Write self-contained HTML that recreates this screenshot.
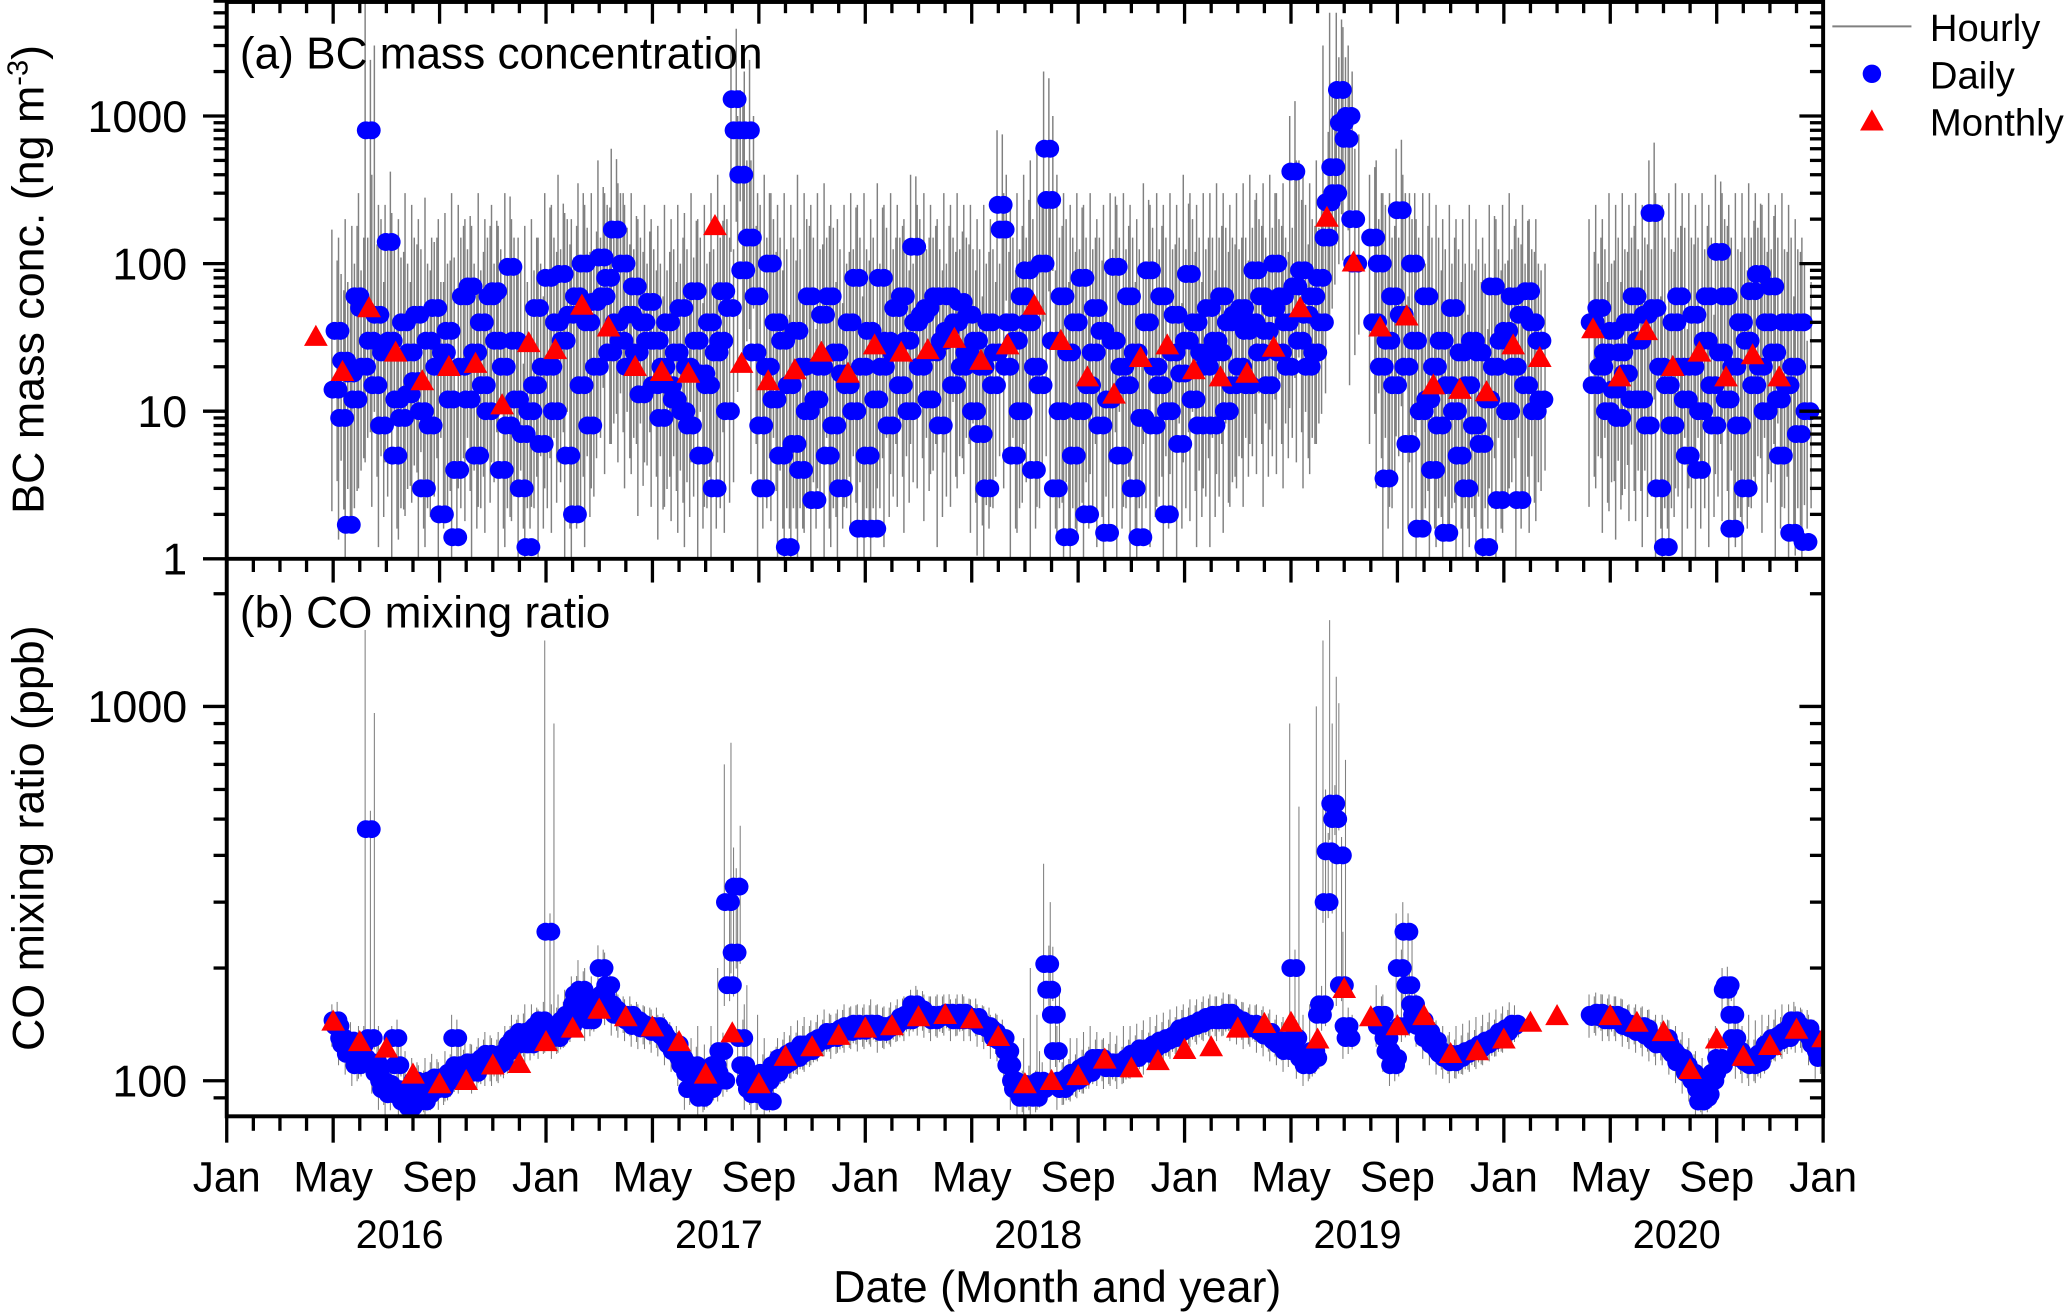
<!DOCTYPE html>
<html><head><meta charset="utf-8">
<style>
html,body{margin:0;padding:0;background:#fff;}
svg{display:block;font-family:"Liberation Sans",Arial,sans-serif;}
</style></head>
<body>
<svg id="chart" width="2067" height="1314" viewBox="0 0 1568 997" preserveAspectRatio="none" xmlns="http://www.w3.org/2000/svg">
<defs>
<clipPath id="clipA"><rect x="172" y="0" width="1211" height="424"/></clipPath>
<clipPath id="clipB"><rect x="172" y="424" width="1211" height="423"/></clipPath>
</defs>
<g id="bcHourly" clip-path="url(#clipA)"></g>
<g id="bcDailyG" clip-path="url(#clipA)"></g>
<g id="bcMonthlyG" clip-path="url(#clipA)"></g>
<g id="coHourly" clip-path="url(#clipB)"></g>
<g id="coDailyG" clip-path="url(#clipB)"></g>
<g id="coMonthlyG" clip-path="url(#clipB)"></g>
<g id="axes"></g>
<text x="182" y="52" font-size="33.5">(a) BC mass concentration</text>
<text x="182" y="476" font-size="33.5">(b) CO mixing ratio</text>
<text transform="translate(33,212) rotate(-90)" text-anchor="middle" font-size="34">BC mass conc. (ng m<tspan baseline-shift="super" font-size="22">-3</tspan>)</text>
<text transform="translate(33,636) rotate(-90)" text-anchor="middle" font-size="34">CO mixing ratio (ppb)</text>
<text x="802" y="988" text-anchor="middle" font-size="34">Date (Month and year)</text>
<g>
<line x1="1390" y1="20" x2="1450" y2="20" stroke="#808080" stroke-width="1.5"/>
<text x="1464" y="31" font-size="29">Hourly</text>
<circle cx="1420" cy="56" r="7" fill="#0000ff"/>
<text x="1464" y="67" font-size="29">Daily</text>
<polygon points="1420,83 1429,99 1411,99" fill="#ff0000"/>
<text x="1464" y="103" font-size="29">Monthly</text>
</g>
</svg>
<script>
// ---- data ----
const bcDailyStart = 4;
const bcDaily = [
[14,35,170],[9,22,150],[1.7,18,200],[12,60,180],
[50,20,300],[800,30,6000],[15,45,400],[8,25,250],
[140,30,250],[5,12,220],[9,40,200],[13,25,300],
[16,45,250],[10,3,200],[30,8,280],[50,20,150],
[2,25,200],[35,12,220],[1.4,4,300],[20,60,250],
[12,70,200],[25,5,180],[40,15,300],[10,60,200],
[65,30,250],[4,20,180],[8,95,300],[30,12,200],
[3,7,150],[1.2,10,180],[15,50,200],[6,20,150],
[80,20,300],[10,40,250],[85,30,400],[5,45,220],
[2,60,200],[15,100,350],[40,8,250],[55,20,300],
[110,60,500],[80,25,300],[170,40,600],[30,100,350],
[20,45,250],[70,25,300],[13,40,200],[30,55,250],
[15,30,200],[9,20,180],[40,15,250],[12,25,200],
[50,10,250],[20,8,220],[65,30,300],[5,18,200],
[15,40,250],[3,25,300],[30,65,400],[10,50,250],
[1300,800,3000],[400,90,1000],[800,150,2000],[25,60,500],
[8,3,300],[20,100,400],[12,40,300],[5,30,250],
[1.2,15,300],[6,35,250],[4,20,400],[10,60,300],
[2.5,12,250],[20,45,300],[5,60,350],[8,25,250],
[3,18,200],[15,40,250],[10,80,300],[1.6,20,250],
[5,35,300],[1.6,12,200],[80,20,350],[30,8,250],
[25,50,300],[15,60,250],[30,10,200],[130,40,400],
[20,45,250],[50,12,300],[25,60,250],[8,30,200],
[35,60,300],[15,40,250],[55,20,300],[25,45,250],
[10,30,250],[7,20,200],[3,40,250],[15,25,200],
[250,170,800],[20,40,300],[5,30,250],[10,60,300],
[90,40,400],[4,20,500],[15,100,600],[600,270,2000],
[30,3,300],[10,60,400],[1.4,25,300],[5,40,250],
[10,80,300],[2,15,250],[25,50,300],[8,35,200],
[1.5,12,250],[30,95,300],[5,20,250],[15,60,300],
[3,25,250],[1.4,9,200],[40,90,350],[8,20,250],
[15,60,300],[2,10,250],[25,45,300],[6,18,250],
[30,85,400],[12,40,300],[8,25,250],[20,50,300],
[8,30,300],[25,60,350],[10,40,300],[15,45,250],
[20,50,300],[35,15,350],[40,90,400],[25,60,300],
[35,15,350],[50,100,400],[25,60,300],[40,20,350],
[420,70,1000],[30,90,500],[45,20,400],[60,25,350],
[80,40,500],[150,260,3000],[450,300,5000],[1500,900,5000],
[700,1000,4000],[200,100,1500],null,null,
[150,40,400],[100,20,500],[3.5,30,300],[60,15,300],
[230,45,600],[20,6,400],[100,30,300],[1.6,10,200],
[60,12,300],[4,20,300],[8,30,250],[1.5,15,200],
[50,10,250],[5,25,200],[3,15,200],[30,8,250],
[25,6,200],[1.2,12,150],[70,20,250],[2.5,30,200],
[35,10,250],[60,20,300],[2.5,45,200],[15,65,250],
[40,10,200],[30,12,200],null,null,
null,null,null,null,
null,[40,15,200],[50,20,250],[25,10,200],
[35,14,300],[9,25,250],[18,40,300],[12,60,250],
[30,12,300],[45,8,250],[220,50,500],[3,20,300],
[1.2,15,250],[8,40,300],[60,20,350],[12,5,300],
[20,45,300],[4,10,250],[30,60,300],[15,8,250],
[120,25,400],[60,12,300],[1.6,20,250],[8,40,300],
[3,30,300],[65,15,350],[85,20,300],[10,40,250],
[70,25,300],[12,5,250],[40,15,300],[1.5,20,250],
[7,40,200],[1.3,10,150],null,null
];
const bcMonthlyT1Start = 3.35;
const bcMonthly1 = [32,18.5,50,25,16,20,21,11,29,26,52,37,20,18.5,18,180,21,16,19,25,18,28,25,26,31,22,28,52,30,17,13,23,28,19,17,18,27,50,205,102,37,44,15,14,13.5,28,23];
const bcMonthlyT2Start = 51.35;
const bcMonthly2 = [36,17,35,20,25,17,24,17];

const coDailyStart = 4;
const coDaily = [
[145,140,160],[130,125,150],[118,128,140],[120,110,135],
[125,115,140],[470,130,1600],[112,105,130],[100,95,140],
[98,92,120],[130,110,140],[95,88,125],[90,85,120],
[100,92,115],[95,88,110],[92,100,115],[97,102,118],
[95,98,112],[100,105,120],[130,110,150],[105,108,125],
[108,112,130],[105,110,125],[112,115,130],[118,110,135],
[115,110,130],[112,118,135],[120,125,140],[130,125,150],
[135,128,150],[130,125,160],[138,140,160],[145,130,155],
[250,135,1500],[140,130,160],[135,145,170],[150,140,175],
[160,170,190],[175,165,210],[150,145,200],[160,155,190],
[200,170,230],[180,160,220],[155,150,180],[150,148,170],
[145,150,165],[140,145,160],[142,138,160],[138,140,158],
[135,140,155],[135,132,150],[128,125,148],[120,125,140],
[115,110,135],[105,95,130],[110,100,130],[90,100,140],
[100,95,125],[110,105,140],[120,100,200],[300,180,700],
[220,330,800],[130,110,300],[100,95,160],[92,95,130],
[95,105,150],[100,88,130],[110,105,120],[115,110,130],
[112,118,135],[120,115,140],[118,125,145],[125,120,148],
[125,128,145],[130,128,150],[132,135,155],[130,135,150],
[135,138,155],[140,135,160],[138,142,158],[140,136,160],
[138,142,160],[142,140,165],[140,135,160],[138,140,158],
[140,142,162],[145,148,165],[150,145,168],[160,155,175],
[155,150,175],[150,148,170],[145,150,168],[148,150,170],
[150,152,170],[148,145,165],[150,152,170],[145,148,168],
[145,148,165],[142,140,160],[140,138,158],[135,130,150],
[128,130,150],[120,110,140],[100,95,130],[95,90,120],
[92,98,130],[95,90,200],[100,95,150],[205,175,380],
[150,120,300],[100,95,140],[98,102,125],[105,100,130],
[102,108,130],[110,105,135],[112,115,140],[115,110,135],
[112,108,130],[110,112,135],[108,110,132],[112,115,140],
[118,115,140],[120,122,142],[118,120,145],[122,125,148],
[125,128,150],[128,130,152],[130,132,155],[135,138,158],
[138,140,160],[140,142,165],[142,145,165],[145,148,168],
[145,150,170],[148,145,168],[150,152,172],[148,145,170],
[145,142,165],[140,138,162],[142,140,160],[138,135,160],
[132,135,158],[130,128,155],[125,128,150],[120,125,148],
[200,130,900],[118,115,145],[110,112,150],[120,115,160],
[150,160,1000],[300,410,1500],[550,500,1700],[400,180,1200],
[140,130,250],null,null,null,
null,[140,150,180],[130,120,170],[110,115,150],
[200,140,280],[250,180,300],[160,150,200],[140,145,170],
[130,135,160],[125,128,150],[120,118,145],[115,118,140],
[112,115,135],[115,118,140],[118,120,142],[120,122,145],
[122,125,148],[125,128,150],[128,130,152],[132,135,155],
[135,138,158],[140,142,162],null,null,
null,null,null,null,
null,null,null,null,
null,[150,148,170],[152,150,172],[148,145,170],
[145,150,170],[148,145,168],[140,142,165],[138,140,160],
[135,140,160],[138,132,158],[130,128,155],[125,128,150],
[130,125,150],[120,118,145],[112,115,140],[110,105,135],
[105,100,130],[95,88,120],[90,92,115],[100,105,130],
[115,110,140],[175,180,200],[150,130,190],[120,115,150],
[115,112,140],[110,115,150],[112,118,145],[120,125,150],
[125,130,150],[128,132,155],[135,130,160],[140,145,160],
[140,135,158],[135,138,155],[130,125,150],[120,115,140]
];
const coMonthlyT1Start = 4;
const coMonthly1 = [144,127,122,104,98,100,110,111,127,138,155,148,139,127,104,134,98,116,123,132,138,140,148,150,146,131,98,100,103,114,108,113,121,123,138,142,143,129,176,148,140,149,118,120,129,143,149];
const coMonthlyT2Start = 52;
const coMonthly2 = [149,143,135,107,129,116,124,137,130];

const monthLabels = ["Jan","May","Sep","Jan","May","Sep","Jan","May","Sep","Jan","May","Sep","Jan","May","Sep","Jan"];
const yearLabels = ["2016","2017","2018","2019","2020"];
const bcTicks = [1,10,100,1000];
const coTicks = [100,1000];

// ---- scales ----
const X0=172, X1=1383, TMAX=60;
const xS = t => X0 + t*(X1-X0)/TMAX;
const yBC = v => 424 - Math.log10(v)*112;
const yCO = v => 820 - (Math.log10(v)-2)*284;
const NS="http://www.w3.org/2000/svg";
function mk(tag, attrs, parent){const e=document.createElementNS(NS,tag);for(const k in attrs)e.setAttribute(k,attrs[k]);parent.appendChild(e);return e;}

function drawDaily(data, start, ys, hourlyG, dailyG, cfg, name){
  data.forEach((d,i)=>{
    if(!d) return;
    const t = start + i*0.25 + 0.125;
    const x = xS(t);
    const mn = Math.min(d[0],d[1]), mx = Math.max(d[0],d[1]);
    const lo = Math.max(mn*cfg.low, cfg.floor);
    const tops = [d[2], mx*cfg.up, Math.max(d[2]*cfg.third, mx)];
    const offs = [-3.5, 0.5, 3.5];
    tops.forEach((top,j)=>{
      const bot = Math.max(Math.min(lo*(1+j*cfg.step), top), cfg.floor);
      const l = mk('line',{x1:x+offs[j],x2:x+offs[j],y1:ys(top),y2:ys(bot),stroke:'#808080','stroke-width':cfg.w},hourlyG);
      
      
    });
    const pts = [[d[0],-3],[d[1],3],[d[0],1.5],[d[1],-1.5]];
    pts.forEach(p=>{
      const c = mk('circle',{cx:x+p[1],cy:ys(p[0]),r:6.8,fill:'#0000ff'},dailyG);
      
      
    });
  });
}
function drawMonthly(vals, start, ys, g, name){
  vals.forEach((v,i)=>{
    const x = xS(start+i), y = ys(v);
    const p = mk('polygon',{points:`${x},${y-9} ${x+9},${y+7} ${x-9},${y+7}`,fill:'#ff0000'},g);
    
    
  });
}
drawDaily(bcDaily, bcDailyStart, yBC, document.getElementById('bcHourly'), document.getElementById('bcDailyG'), {low:0.15,floor:1,up:3,third:0.5,w:1.1,step:0.6}, 'bc');
drawDaily(coDaily, coDailyStart, yCO, document.getElementById('coHourly'), document.getElementById('coDailyG'), {low:0.88,floor:80,up:1.12,third:0.6,w:0.8,step:0.03}, 'co');
drawMonthly(bcMonthly1, bcMonthlyT1Start, yBC, document.getElementById('bcMonthlyG'), 'bc');
drawMonthly(bcMonthly2, bcMonthlyT2Start, yBC, document.getElementById('bcMonthlyG'), 'bc');
drawMonthly(coMonthly1, coMonthlyT1Start, yCO, document.getElementById('coMonthlyG'), 'co');
drawMonthly(coMonthly2, coMonthlyT2Start, yCO, document.getElementById('coMonthlyG'), 'co');

// ---- axes ----
const ax = document.getElementById('axes');
const frame = mk('rect',{x:X0,y:1.5,width:X1-X0,height:845.5,fill:'none',stroke:'#000','stroke-width':3},ax);


const mid = mk('line',{x1:X0,x2:X1,y1:424,y2:424,stroke:'#000','stroke-width':3},ax);


for(let m=0;m<=TMAX;m++){
  const x=xS(m), major=(m%4===0);
  mk('line',{x1:x,x2:x,y1:847,y2:847+(major?20:11),stroke:'#000','stroke-width':2.5},ax);
  mk('line',{x1:x,x2:x,y1:0,y2:(major?18:10),stroke:'#000','stroke-width':2.5},ax);
  mk('line',{x1:x,x2:x,y1:424,y2:424+(major?18:10),stroke:'#000','stroke-width':2.5},ax);
}
monthLabels.forEach((s,i)=>{
  const t = mk('text',{x:xS(i*4),y:904,'text-anchor':'middle','font-size':32},ax);
  t.textContent=s;
  
  
});
yearLabels.forEach((s,i)=>{
  const t = mk('text',{x:xS(i*12+6.5),y:947,'text-anchor':'middle','font-size':30},ax);
  t.textContent=s;
  
  
});
function logTicks(ys, lo, hi, majors, labelsX){
  for(let dec=-1;dec<=4;dec++){
    for(let k=1;k<10;k++){
      const v=k*Math.pow(10,dec);
      if(v<lo||v>hi) continue;
      const y=ys(v), major=(k===1);
      mk('line',{x1:X0,x2:X0-(major?18:10),y1:y,y2:y,stroke:'#000','stroke-width':2.5},ax);
      mk('line',{x1:X1,x2:X1-(major?18:10),y1:y,y2:y,stroke:'#000','stroke-width':2.5},ax);
    }
  }
  majors.forEach(v=>{
    const t=mk('text',{x:labelsX,y:ys(v)+12,'text-anchor':'end','font-size':34},ax);
    t.textContent=String(v);
    
    
  });
}
logTicks(yBC, 1, 6000, bcTicks, 142);
logTicks(yCO, 81, 2400, coTicks, 142);
</script>
</body></html>
